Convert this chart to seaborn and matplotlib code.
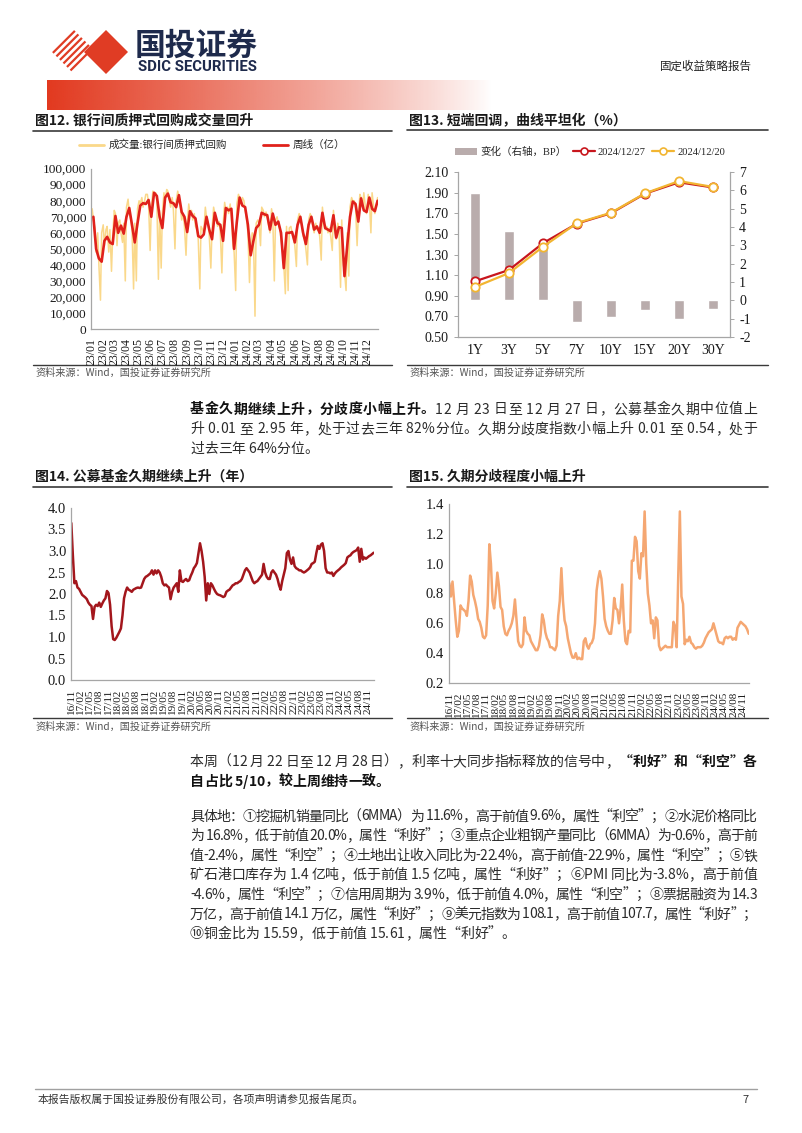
import numpy as np
import pandas as pd
import matplotlib
matplotlib.use('Agg')
import matplotlib.pyplot as plt
import matplotlib.dates as mdates
from matplotlib.ticker import FuncFormatter, MultipleLocator
from matplotlib.patches import Polygon, Patch
from matplotlib.lines import Line2D
import seaborn as sns

# ---------------- DATA ----------------
# Fig 12: interbank pledged repo volume (100m CNY)
repo_weeks_start = '2023-01-06'
repo_weekly = [
    70000, 50000, 44000, 42000, 55000, 57500, 54000, 53000, 70500, 60000,
    64500, 59500, 70000, 75500, 65000, 54000, 66000, 77000, 78500, 78000,
    80500, 70000, 85000, 83000, 70000, 63000, 82000, 84500, 79000, 78500,
    76000, 83500, 73000, 70000, 60500, 73500, 70500, 69000, 58000, 57000,
    59000, 70000, 62000, 56000, 72500, 66000, 65000, 55000, 75500, 74000,
    75000, 50000, 67000, 82000, 77000, 76000, 65000, 46000, 55000, 63000,
    65000, 72500, 71500, 71000, 62000, 72000, 65000, 67000, 60000, 38000,
    60000, 60000, 60500, 54000, 65000, 70000, 60000, 53000, 65000, 70000,
    62000, 64000, 60000, 72500, 63000, 62000, 61000, 71000, 57000, 63500,
    63000, 33000, 52000, 70000, 79500, 78000, 67000, 81500, 74000, 73000,
    82000, 75000, 73500, 80000]
repo_daily_tue = [
    75000, 63000, 60000, 18000, 65000, 62000, 48000, 36000, 74000, 52000,
    68000, 54000, 30000, 81000, 68000, 25000, 30000, 80000, 82000, 80000,
    84000, 49000, 86000, 85000, 31000, 38000, 85000, 87000, 80000, 82000,
    50000, 86000, 75000, 72000, 46000, 78000, 74000, 72000, 62000, 25000,
    62000, 76000, 66000, 38000, 76000, 68000, 67000, 35000, 79000, 76000,
    78000, 52000, 24000, 84000, 78000, 80000, 68000, 29000, 60000, 8000,
    68000, 52000, 74000, 73000, 64000, 75000, 30000, 70000, 62000, 48000,
    22000, 24000, 64000, 56000, 39000, 72000, 64000, 56000, 40000, 72000,
    64000, 66000, 62000, 43000, 66000, 64000, 63000, 49000, 60000, 66000,
    26000, 40000, 24000, 33000, 82000, 80000, 52000, 84000, 76000, 76000,
    84000, 60000, 76000, 78000]
repo_daily_fri = [
    68000, 48000, 40000, 60000, 52000, 64000, 62000, 58000, 72000, 66000,
    60000, 66000, 76000, 72000, 62000, 66000, 75000, 78000, 76000, 84000,
    78000, 76000, 84000, 80000, 74000, 72000, 80000, 86000, 76000, 74000,
    80000, 82000, 68000, 64000, 66000, 72000, 68000, 64000, 56000, 64000,
    60000, 70000, 58000, 62000, 72000, 64000, 60000, 64000, 74000, 72000,
    70000, 48000, 78000, 82000, 82000, 74000, 60000, 52000, 58000, 66000,
    66000, 76000, 70000, 70000, 60000, 70000, 68000, 66000, 56000, 40000,
    64000, 63000, 60000, 52000, 68000, 70000, 58000, 50000, 68000, 70000,
    60000, 62000, 58000, 76000, 62000, 60000, 58000, 74000, 56000, 62000,
    68000, 36000, 60000, 76000, 80000, 76000, 70000, 82000, 85000, 72000,
    80000, 85000, 72000, 82000]
repo_legend = ['成交量:银行间质押式回购', '周线（亿）']

# Fig 13: treasury curve
tenors = ['1Y', '3Y', '5Y', '7Y', '10Y', '15Y', '20Y', '30Y']
yield_1227 = [1.04, 1.15, 1.41, 1.60, 1.70, 1.89, 2.00, 1.95]
yield_1220 = [0.985, 1.12, 1.375, 1.605, 1.705, 1.893, 2.012, 1.955]
change_bp = [5.85, 3.8, 3.3, -1.2, -0.9, -0.55, -1.0, -0.47]
curve_legend = ['变化（右轴，BP）', '2024/12/27', '2024/12/20']

# Fig 14: public fund duration median (years), semi-monthly
fund_duration = [
    3.65, 2.90, 2.25, 2.30, 2.15, 2.12, 2.05, 1.98, 1.95, 1.92,
    1.88, 1.80, 1.75, 1.72, 1.42, 1.70, 1.75, 1.72, 1.80, 1.70,
    1.78, 1.85, 1.90, 2.07, 2.02, 1.75, 1.25, 0.95, 0.93, 0.98,
    1.05, 1.12, 1.20, 1.50, 1.90, 2.05, 2.15, 2.10, 2.08, 2.05,
    2.10, 2.12, 2.14, 2.15, 2.14, 2.15, 2.25, 2.35, 2.40, 2.42,
    2.45, 2.48, 2.55, 2.45, 2.55, 2.48, 2.55, 2.50, 2.40, 2.25,
    2.20, 2.22, 2.18, 2.15, 1.88, 2.05, 2.15, 2.20, 2.25, 2.05,
    2.55, 2.30, 2.28, 2.32, 2.35, 2.30, 2.32, 2.42, 2.50, 2.60,
    2.65, 2.72, 2.95, 3.18, 3.00, 2.75, 2.40, 1.85, 2.25, 2.00,
    2.25, 2.20, 2.12, 2.05, 2.00, 1.98, 1.97, 1.95, 1.93, 1.95,
    2.05, 2.08, 2.10, 2.15, 2.20, 2.22, 2.25, 2.25, 2.28, 2.30,
    2.35, 2.45, 2.55, 2.60, 2.55, 2.50, 2.40, 2.30, 2.25, 2.28,
    2.30, 2.35, 2.40, 2.45, 2.70, 2.50, 2.40, 2.35, 2.35, 2.50,
    2.55, 2.50, 2.45, 2.35, 2.20, 2.10, 2.30, 2.45, 2.60, 2.95,
    3.00, 2.80, 2.70, 2.85, 2.65, 2.60, 2.58, 2.55, 2.55, 2.52,
    2.50, 2.52, 2.55, 2.58, 2.62, 2.70, 2.72, 2.75, 2.95, 3.12,
    3.05, 3.15, 3.18, 3.00, 2.60, 2.50, 2.50, 2.48, 2.50, 2.42,
    2.48, 2.52, 2.55, 2.58, 2.62, 2.65, 2.68, 2.72, 2.85, 2.88,
    2.90, 2.95, 2.98, 3.00, 3.02, 3.08, 2.75, 3.05, 2.80, 2.85,
    2.82, 2.85, 2.88, 2.90, 2.93, 2.96]

# Fig 15: duration divergence index
duration_divergence = [
    0.87, 0.78, 0.88, 0.75, 0.62, 0.51, 0.55, 0.72, 0.70, 0.69,
    0.68, 0.65, 0.75, 0.92, 0.88, 0.79, 0.75, 0.70, 0.63, 0.61,
    0.57, 0.51, 0.50, 0.52, 0.72, 1.13, 1.00, 0.75, 0.70, 0.80,
    0.94, 0.85, 0.71, 0.69, 0.58, 0.53, 0.52, 0.55, 0.57, 0.60,
    0.65, 0.76, 0.62, 0.48, 0.45, 0.44, 0.46, 0.64, 0.55, 0.53,
    0.52, 0.48, 0.46, 0.44, 0.42, 0.42, 0.45, 0.52, 0.66, 0.62,
    0.54, 0.50, 0.48, 0.44, 0.44, 0.43, 0.42, 0.45, 0.65, 0.75,
    0.97, 0.75, 0.62, 0.58, 0.50, 0.45, 0.40, 0.37, 0.37, 0.40,
    0.36, 0.37, 0.36, 0.36, 0.48, 0.50, 0.45, 0.43, 0.46, 0.47,
    0.50, 0.60, 0.82, 0.90, 0.95, 0.90, 0.78, 0.63, 0.58, 0.55,
    0.53, 0.53, 0.62, 0.77, 0.70, 0.69, 0.60, 0.70, 0.86, 0.62,
    0.48, 0.46, 0.55, 0.54, 1.02, 1.02, 1.18, 1.15, 0.95, 0.90,
    1.07, 1.05, 1.35, 1.00, 0.80, 0.72, 0.60, 0.62, 0.50, 0.64,
    0.62, 0.45, 0.42, 0.43, 0.44, 0.45, 0.44, 0.44, 0.44, 0.44,
    0.61, 0.58, 0.44, 0.92, 1.35, 0.78, 0.73, 0.46, 0.49, 0.48,
    0.51, 0.47, 0.46, 0.44, 0.43, 0.44, 0.44, 0.44, 0.45, 0.47,
    0.50, 0.52, 0.54, 0.55, 0.56, 0.60, 0.56, 0.52, 0.48, 0.47,
    0.47, 0.46, 0.50, 0.51, 0.50, 0.51, 0.51, 0.49, 0.50, 0.49,
    0.57, 0.59, 0.61, 0.60, 0.59, 0.58, 0.56, 0.53]
fund_start, fund_end = '2016-11-04', '2024-12-27'

titles = ['图12. 银行间质押式回购成交量回升', '图13. 短端回调，曲线平坦化（%）',
          '图14. 公募基金久期继续上升（年）', '图15. 久期分歧程度小幅上升']
source = '资料来源：Wind，国投证券证券研究所'

para1 = [
    [('基金久期继续上升，分歧度小幅上升。', 'bold'), ('12 月 23 日至 12 月 27 日，公募基金久期中位值上', 'normal')],
    [('升 0.01 至 2.95 年，处于过去三年 82%分位。久期分歧度指数小幅上升 0.01 至 0.54，处于', 'normal')],
    [('过去三年 64%分位。', 'normal')],
]
para2 = [
    [('本周（12 月 22 日至 12 月 28 日），利率十大同步指标释放的信号中，', 'normal'), ('“利好”和“利空”各', 'bold')],
    [('自占比 5/10，较上周维持一致。', 'bold')],
]
para3 = [
    [('具体地：①挖掘机销量同比（6MMA）为 11.6%，高于前值 9.6%，属性“利空”；②水泥价格同比', 'normal')],
    [('为 16.8%，低于前值 20.0%，属性“利好”；③重点企业粗钢产量同比（6MMA）为-0.6%，高于前', 'normal')],
    [('值-2.4%，属性“利空”；④土地出让收入同比为-22.4%，高于前值-22.9%，属性“利空”；⑤铁', 'normal')],
    [('矿石港口库存为 1.4 亿吨，低于前值 1.5 亿吨，属性“利好”；⑥PMI 同比为-3.8%，高于前值', 'normal')],
    [('-4.6%，属性“利空”；⑦信用周期为 3.9%，低于前值 4.0%，属性“利空”；⑧票据融资为 14.3', 'normal')],
    [('万亿，高于前值 14.1 万亿，属性“利好”；⑨美元指数为 108.1，高于前值 107.7，属性“利好”；', 'normal')],
    [('⑩铜金比为 15.59，低于前值 15.61，属性“利好”。', 'normal')],
]
footer = '本报告版权属于国投证券股份有限公司，各项声明请参见报告尾页。'

# ---------------- STYLE ----------------
sns.set_style('white')
plt.rcParams['font.family'] = ['Liberation Serif', 'Noto Sans CJK SC', 'DejaVu Sans']
plt.rcParams['axes.unicode_minus'] = False
CJK = ['Noto Sans CJK SC', 'DejaVu Sans']
RED = '#E0211B'
YEL = '#FAD88A'
MAROON = '#A3161C'
ORANGE = '#F5A772'
BARC = '#B9ACAC'
RED13 = '#C8161D'
YEL13 = '#F2B531'
SPINE = '#A6A6A6'

W, H = 802, 1133
fig = plt.figure(figsize=(W / 100, H / 100), dpi=100)
bg = fig.add_axes([0, 0, 1, 1])
bg.axis('off')
renderer = fig.canvas.get_renderer()


def rect(l, t, r, b):
    return fig.add_axes([l / W, 1 - b / H, (r - l) / W, (b - t) / H])


def style(ax, spines=('left', 'bottom')):
    for s in ax.spines:
        ax.spines[s].set_visible(s in spines)
        ax.spines[s].set_color(SPINE)
        ax.spines[s].set_linewidth(0.9)
    ax.tick_params(axis='both', which='both', color=SPINE, length=3, width=0.7,
                   labelcolor='#1a1a1a', direction='out')
    ax.set_xlabel('')
    ax.set_ylabel('')


# ---------------- HEADER ----------------
LOGO = '#E03C24'
def diamond(cx, cy, a):
    return [(cx - a, cy), (cx, cy - a), (cx + a, cy), (cx, cy + a)]

L, T, R, B = [np.array(p) for p in diamond(74, 52, 22)]
for tt in [0.04, 0.2, 0.36, 0.52, 0.68, 0.84]:
    p0 = L + tt * (B - L)
    p1 = T + tt * (B - L)
    bg.plot([p0[0], p1[0]], [p0[1], p1[1]], color=LOGO, lw=1.6, solid_capstyle='butt')
bg.add_patch(Polygon(diamond(106, 52, 22), closed=True, color=LOGO, lw=0))


def fit_text(s, x0, x1, y, weight='bold', family=CJK, color='#000', base=20):
    t = bg.text(0, 0, s, fontsize=base, fontweight=weight, family=family)
    w = t.get_window_extent(renderer).width
    t.remove()
    size = base * (x1 - x0) / w
    bg.text(x0, y, s, fontsize=size, fontweight=weight, family=family, color=color,
            ha='left', va='center')

NAVY = '#1E2A4C'
fit_text('国投证券', 135, 258, 46, color=NAVY)
fit_text('SDIC SECURITIES', 138, 257, 67, family=['Roboto', 'DejaVu Sans'], color=NAVY)
bg.text(752, 66, '固定收益策略报告', fontsize=8.3, family=CJK, color='#222', ha='right', va='center')

grad = np.ones((1, 300, 4))
grad[..., :3] = matplotlib.colors.to_rgb('#E2391F')
grad[0, :, 3] = np.linspace(1, 0, 300) ** 0.85
bg.imshow(grad, extent=[47, 492, 110, 80], aspect='auto', interpolation='bilinear')

# ---------------- TITLES / RULES / SOURCES ----------------
def block(x0, x1, ty, title, ly_top, ly_src, src_y):
    bg.text(x0 + 2, ty, title, fontsize=10, fontweight='bold', family=CJK, color='#1a1a1a',
            ha='left', va='center')
    bg.plot([x0, x1], [ly_top, ly_top], color='#3a3a3a', lw=1.2)
    bg.plot([x0, x1], [ly_src, ly_src], color='#3a3a3a', lw=1.0)
    bg.text(x0 + 2, src_y, source, fontsize=7.3, family=CJK, color='#555555', ha='left', va='center')

block(33, 392, 121, titles[0], 130.5, 365, 373)
block(407, 768, 121, titles[1], 129.5, 365, 373)
block(33, 392, 477, titles[2], 487, 718, 727)
block(407, 768, 477, titles[3], 487, 718, 727)

# ---------------- BODY TEXT ----------------
_wc = {}
def adv(c, size, weight):
    key = (c, size, weight)
    if key not in _wc:
        def w(s):
            t = bg.text(0, 0, s, fontsize=size, fontweight=weight, family=CJK)
            e = t.get_window_extent(renderer).width
            t.remove()
            return e
        _wc[key] = w('|' + c + '|') - w('||')
    return _wc[key]


def draw_line(segs, x0, y, x1=None, size=10):
    chars = [(c, wt) for s, wt in segs for c in s]
    ws = [adv(c, size, wt) for c, wt in chars]
    gap = 0.0
    if x1 is not None and len(chars) > 1:
        gap = (x1 - x0 - sum(ws)) / (len(chars) - 1)
    x = x0
    for (c, wt), w in zip(chars, ws):
        if c != ' ':
            bg.text(x, y, c, fontsize=size, fontweight=wt, family=CJK,
                    color='#111111' if wt == 'bold' else '#2b2b2b',
                    ha='left', va='center_baseline')
        x += w + gap


def draw_para(lines, y0, step=19.6, x0=190, x1=757):
    for i, segs in enumerate(lines):
        last = i == len(lines) - 1
        draw_line(segs, x0, y0 + i * step, None if last else x1)

draw_para(para1, 408)
draw_para(para2, 760.5)
draw_para(para3, 815)

# footer
bg.plot([35, 757], [1089, 1089], color='#A0A0A0', lw=1.0)
bg.text(38, 1100, footer, fontsize=7.8, family=CJK, color='#333', ha='left', va='center')
bg.text(742, 1100, '7', fontsize=8, family=CJK, color='#333', ha='left', va='center')

bg.set_xlim(0, W)
bg.set_ylim(H, 0)

# ---------------- FIG 12 ----------------
ax12 = rect(91, 168.7, 378, 329)
wk = pd.date_range(repo_weeks_start, periods=len(repo_weekly), freq='7D')
d_dates = np.ravel(np.column_stack([(wk - pd.Timedelta(days=3)).values, wk.values]))
d_vals = np.ravel(np.column_stack([repo_daily_tue, repo_daily_fri]))
sns.lineplot(x=pd.to_datetime(d_dates), y=d_vals, ax=ax12, color=YEL, linewidth=1.1)
sns.lineplot(x=wk, y=repo_weekly, ax=ax12, color=RED, linewidth=1.9)
ax12.set_ylim(0, 100000)
ax12.yaxis.set_major_locator(MultipleLocator(10000))
ax12.yaxis.set_major_formatter(FuncFormatter(lambda v, p: f'{v:,.0f}'))
ax12.set_xlim(pd.Timestamp('2022-12-31'), pd.Timestamp('2024-12-28'))
ax12.xaxis.set_major_locator(mdates.MonthLocator())
ax12.xaxis.set_major_formatter(mdates.DateFormatter('%y/%m'))
style(ax12)
ax12.tick_params(axis='y', labelsize=9.6, length=0)
ax12.tick_params(axis='x', labelsize=8.6, labelrotation=90)
h12 = [Line2D([], [], color=YEL, lw=2), Line2D([], [], color=RED, lw=2)]
ax12.legend(h12, repo_legend, ncol=2, loc='center', bbox_to_anchor=(212 / W, 1 - 145 / H),
            bbox_transform=fig.transFigure, frameon=False, prop={'size': 7.6},
            handlelength=2.4, columnspacing=3.4, handletextpad=0.4)

# ---------------- FIG 13 ----------------
ax13 = rect(458, 172, 730, 337)
ax13r = ax13.twinx()
sns.barplot(x=tenors, y=change_bp, ax=ax13r, color=BARC, width=0.3, saturation=1)
sns.pointplot(x=tenors, y=yield_1227, ax=ax13, color=RED13, markers='o', linestyles='-',
              errorbar=None, linewidth=1.6, markersize=6, markerfacecolor='white',
              markeredgewidth=1.3)
sns.pointplot(x=tenors, y=yield_1220, ax=ax13, color=YEL13, markers='o', linestyles='-',
              errorbar=None, linewidth=1.6, markersize=6, markerfacecolor='white',
              markeredgewidth=1.3)
ax13.set_ylim(0.5, 2.1)
ax13.set_yticks(np.arange(0.5, 2.11, 0.2))
ax13.yaxis.set_major_formatter(FuncFormatter(lambda v, p: f'{v:.2f}'))
ax13r.set_ylim(-2, 7)
ax13r.set_yticks(range(-2, 8))
ax13.set_xlim(-0.5, 7.5)
ax13.set_zorder(ax13r.get_zorder() + 1)
ax13.patch.set_visible(False)
style(ax13, ('left', 'bottom'))
style(ax13r, ('right',))
ax13.tick_params(axis='both', labelsize=10)
ax13.tick_params(axis='x', length=0, pad=5)
ax13r.tick_params(axis='y', labelsize=10)
h13 = [Patch(facecolor=BARC, edgecolor='none'),
       Line2D([], [], color=RED13, lw=1.6, marker='o', mfc='white', ms=5, mew=1.2),
       Line2D([], [], color=YEL13, lw=1.6, marker='o', mfc='white', ms=5, mew=1.2)]
ax13.legend(h13, curve_legend, ncol=3, loc='center', bbox_to_anchor=(590 / W, 1 - 152 / H),
            bbox_transform=fig.transFigure, frameon=False, prop={'size': 7.6},
            handlelength=2.1, columnspacing=0.6, handletextpad=0.3)

# ---------------- FIG 14 / 15 ----------------
def fund_axis(ax, vals, color, ylim, step):
    dates = pd.date_range(fund_start, fund_end, periods=len(vals))
    sns.lineplot(x=dates, y=vals, ax=ax, color=color, linewidth=1.8)
    ax.set_ylim(*ylim)
    ax.yaxis.set_major_locator(MultipleLocator(step))
    ax.yaxis.set_major_formatter(FuncFormatter(lambda v, p: f'{v:.1f}'))
    ax.set_xlim(pd.Timestamp('2016-11-01'), dates[-1] + pd.Timedelta(days=3))
    ax.xaxis.set_major_locator(mdates.MonthLocator(bymonth=[2, 5, 8, 11]))
    ax.xaxis.set_major_formatter(mdates.DateFormatter('%y/%m'))
    style(ax)
    ax.tick_params(axis='y', labelsize=10.5, length=0)
    ax.tick_params(axis='x', labelsize=8, labelrotation=90)

ax14 = rect(71, 508, 374, 680)
fund_axis(ax14, fund_duration, MAROON, (0, 4), 0.5)
ax15 = rect(449, 504, 749, 683)
fund_axis(ax15, duration_divergence, ORANGE, (0.2, 1.4), 0.2)

fig.savefig('out.png', dpi=100)
